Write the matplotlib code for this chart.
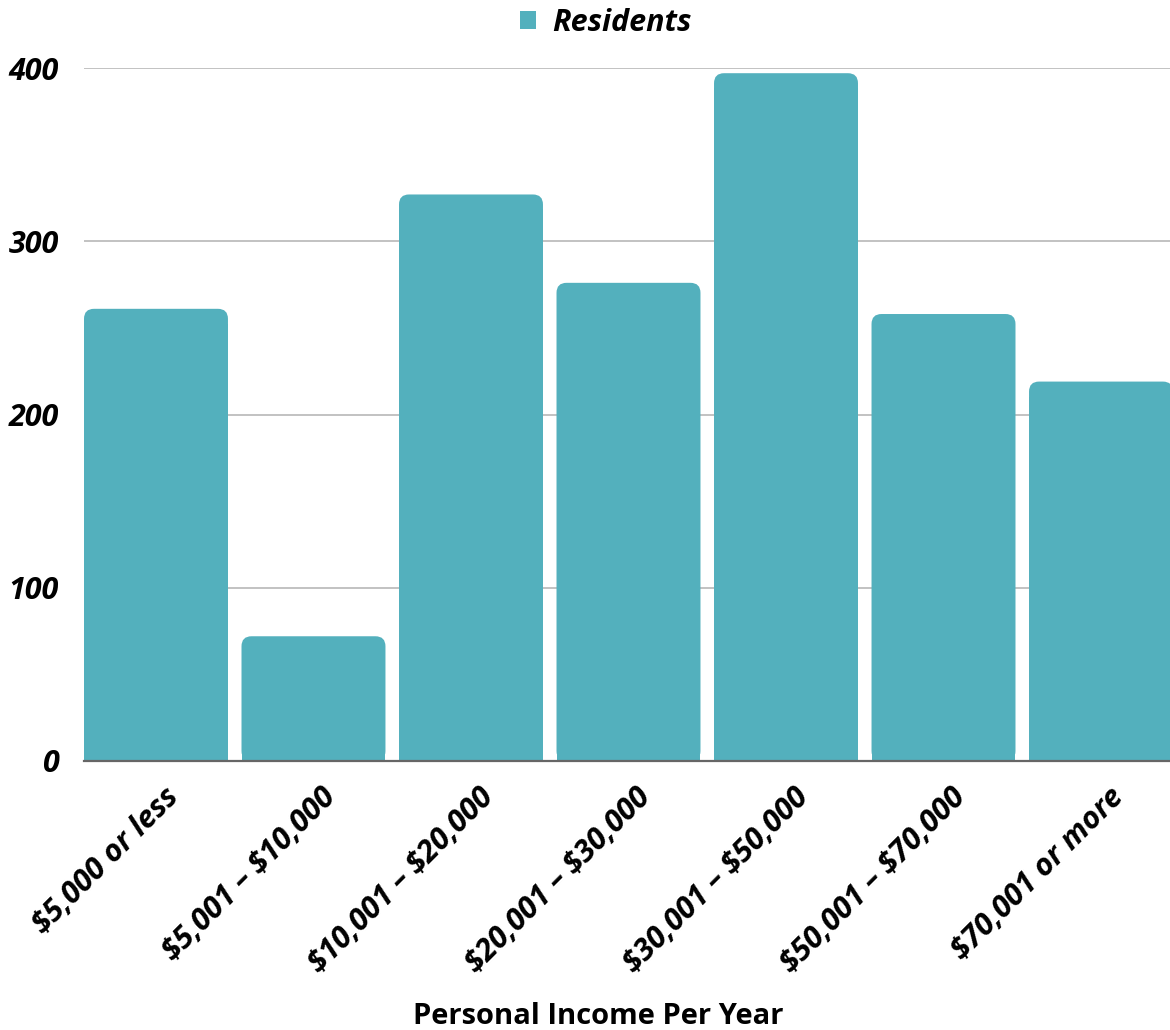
import numpy as np
import matplotlib
matplotlib.use("Agg")
import matplotlib.pyplot as plt
from matplotlib.patches import FancyBboxPatch, Patch
from matplotlib.transforms import ScaledTranslation

plt.rcParams['font.family'] = ['Open Sans', 'DejaVu Sans']
plt.rcParams['text.parse_math'] = False  # labels contain dollar signs

# data
income_bands = ["$5,000 or less", "$5,001 – $10,000", "$10,001 – $20,000",
                "$20,001 – $30,000", "$30,001 – $50,000", "$50,001 – $70,000",
                "$70,001 or more"]
residents = [261, 72, 327, 276, 397, 258, 219]
y_ticks = [0, 100, 200, 300, 400]

bar_color = "#53B0BD"
bar_width = 0.914

fig = plt.figure(figsize=(11.7, 10.3), dpi=100)
ax = fig.add_axes([84 / 1170, 269 / 1030, (1170 - 84) / 1170, 693 / 1030])

x = np.arange(len(income_bands))
ax.set_xlim(-bar_width / 2, 6.438)
ax.set_ylim(0, 400)

# pixel scale, used to keep the corner rounding circular
px_per_x = (1170 - 84) / (6.438 + bar_width / 2)
px_per_y = 693 / 400
r_px = 10
r_x = r_px / px_per_x
r_y = r_px / px_per_y

for xi, val in zip(x, residents):
    left = xi - bar_width / 2
    # rounded box for the top, plain bar underneath hides lower corners
    ax.add_patch(FancyBboxPatch((left, 0), bar_width, val,
                                boxstyle=f"round,pad=0,rounding_size={r_x}",
                                mutation_aspect=px_per_x / px_per_y,
                                fc=bar_color, ec="none", zorder=2))
    ax.bar(xi, val - r_y * 1.5, width=bar_width, color=bar_color, zorder=2)

ax.set_yticks(y_ticks)
ax.set_yticklabels([str(t) for t in y_ticks], fontsize=22, fontweight="bold",
                   fontstyle="italic")
ax.yaxis.grid(True, color="#BDBDBD", linewidth=1.3, zorder=0)
ax.set_axisbelow(True)
ax.tick_params(axis="y", length=0, pad=18)
ax.tick_params(axis="x", length=0, pad=0)

ax.set_xticks(x)
ax.set_xticklabels(income_bands, rotation=45, ha="right", va="center",
                   rotation_mode="anchor", fontsize=22, fontweight="bold",
                   fontstyle="italic")
offset = ScaledTranslation(18 / 100, -32 / 100, fig.dpi_scale_trans)
for lbl in ax.get_xticklabels():
    lbl.set_transform(lbl.get_transform() + offset)

for side in ["top", "right", "left"]:
    ax.spines[side].set_visible(False)
ax.spines["bottom"].set_color("#666666")
ax.spines["bottom"].set_linewidth(1.6)
ax.spines["bottom"].set_zorder(3)

fig.text(598 / 1170, 1 - 1016 / 1030, "Personal Income Per Year", ha="center",
         va="center", fontsize=21, fontweight="bold")

handle = Patch(facecolor=bar_color, edgecolor="none")
fig.legend([handle], ["Residents"], loc="center", bbox_to_anchor=(606 / 1170, 1 - 23 / 1030),
           frameon=False, handlelength=0.5, handleheight=0.5, handletextpad=0.55,
           prop=dict(size=22, weight="bold", style="italic"))

fig.savefig("out.png", dpi=100)
